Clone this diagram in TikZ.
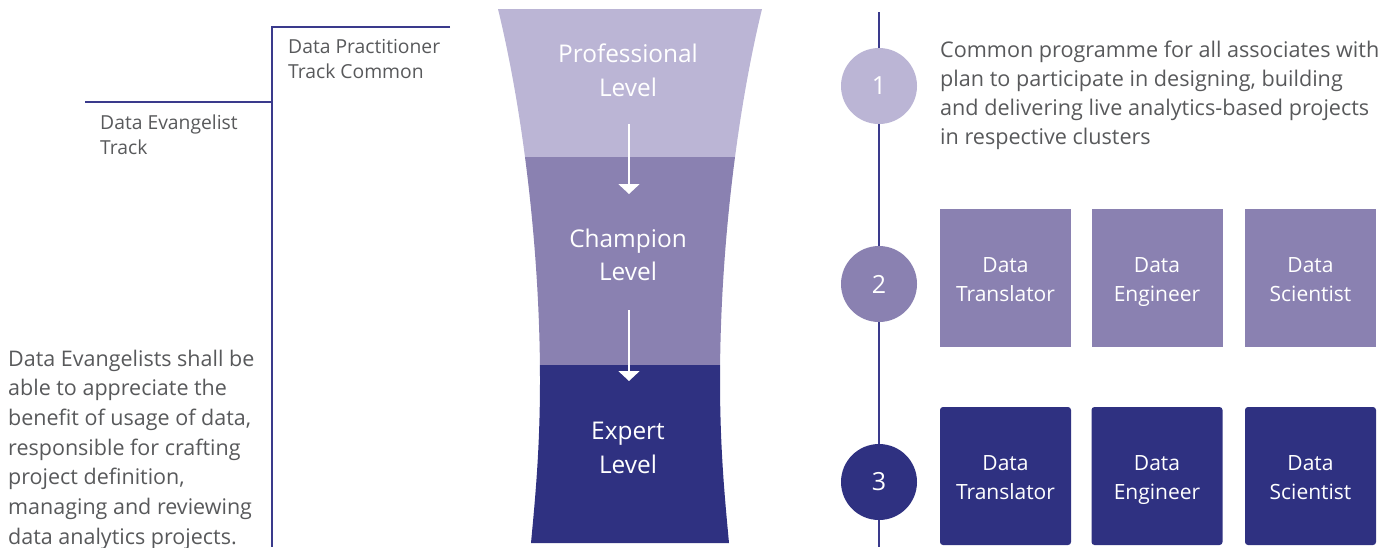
\documentclass[tikz,border=0pt]{standalone}
\usepackage{fontspec}
\setmainfont{Open Sans}
\usetikzlibrary{arrows.meta}
\definecolor{lightp}{HTML}{BBB5D5}
\definecolor{midp}{HTML}{8A81B1}
\definecolor{darkp}{HTML}{2F3181}
\definecolor{navyline}{HTML}{3A3A8C}
\definecolor{textgray}{HTML}{58595B}
\newcommand\boxtopstrut{\rule{0pt}{26.3pt}}
\begin{document}
\begin{tikzpicture}[x=1pt,y=-1pt,
  lbl/.style={text=textgray, inner sep=0, align=left, anchor=north west, font=\fontsize{19.3}{25.5}\selectfont},
  para/.style={text=textgray, inner sep=0, align=left, anchor=north west, font=\fontsize{21.5}{29.7}\selectfont},
  trackline/.style={draw=navyline, line width=1.4pt},
  lvl/.style={text=white, align=center, inner sep=0, font=\fontsize{24.4}{33.5}\selectfont},
  warrow/.style={draw=white, line width=2pt, -{Triangle[width=21pt,length=10pt]}},
  circ/.style={circle, minimum size=76pt, inner sep=0, text=white, font=\fontsize{25}{25}\selectfont},
  rolebox/.style={minimum width=131pt, minimum height=138pt, inner sep=0, text=white, align=center, font=\fontsize{21}{29}\selectfont},
]
\useasboundingbox (0,0) rectangle (1394,547);

% left track lines
\coordinate (t1) at (450,27);
\coordinate (t2) at (272,27);
\coordinate (t3) at (272,547);
\coordinate (e1) at (85,102);
\coordinate (e2) at (272,102);
\draw[trackline] (t1) -- (t2) -- (t3);
\draw[trackline] (e1) -- (e2);

\node[lbl] (dp) at (288,39) {Data Practitioner\\Track Common};
\node[lbl] (de) at (100,114.5) {Data Evangelist\\Track};
\node[para] (desc) at (8,349.5) {Data Evangelists shall be\\able to appreciate the\\benefit of usage of data,\\responsible for crafting\\project definition,\\managing and reviewing\\data analytics projects.};

% funnel
\begin{scope}
\clip (498,9) -- (762,9) .. controls (735,120) and (720,260) .. (720,380)
  .. controls (720,450) and (725,500) .. (729,543) -- (531,543)
  .. controls (535,500) and (540,450) .. (540,380)
  .. controls (540,260) and (525,120) .. (498,9) -- cycle;
\fill[lightp] (480,0) rectangle (780,157);
\fill[midp] (480,157) rectangle (780,364.5);
\fill[darkp] (480,364.5) rectangle (780,547);
\end{scope}

\node[lvl] (pl) at (628,73) {Professional\strut\\Level\strut};
\node[lvl] (cl) at (628,257.5) {Champion\strut\\Level\strut};
\node[lvl] (el) at (628,450) {Expert\strut\\Level\strut};

\coordinate (a1s) at (629,124);
\coordinate (a1e) at (629,194);
\coordinate (a2s) at (629,310);
\coordinate (a2e) at (629,381);
\draw[warrow] (a1s) -- (a1e);
\draw[warrow] (a2s) -- (a2e);

% right timeline
\coordinate (v1) at (879,12);
\coordinate (v2) at (879,547);
\draw[trackline] (v1) -- (v2);

\node[circ, fill=lightp] (c1) at (879,86) {1};
\node[circ, fill=midp] (c2) at (879,284) {2};
\node[circ, fill=darkp] (c3) at (879,482) {3};

\node[para, font=\fontsize{21.6}{29}\selectfont] (common) at (940,40.5) {Common programme for all associates with\\plan to participate in designing, building\\and delivering live analytics-based projects\\in respective clusters};

\node[rolebox, fill=midp] (b21) at (1005.5,278) {Data\boxtopstrut\\Translator\strut};
\node[rolebox, fill=midp] (b22) at (1157,278) {Data\boxtopstrut\\Engineer\strut};
\node[rolebox, fill=midp] (b23) at (1310.5,278) {Data\boxtopstrut\\Scientist\strut};

\node[rolebox, fill=darkp, rounded corners=3pt] (b31) at (1005.5,476) {Data\boxtopstrut\\Translator\strut};
\node[rolebox, fill=darkp, rounded corners=3pt] (b32) at (1157,476) {Data\boxtopstrut\\Engineer\strut};
\node[rolebox, fill=darkp, rounded corners=3pt] (b33) at (1310.5,476) {Data\boxtopstrut\\Scientist\strut};
\end{tikzpicture}
\end{document}
